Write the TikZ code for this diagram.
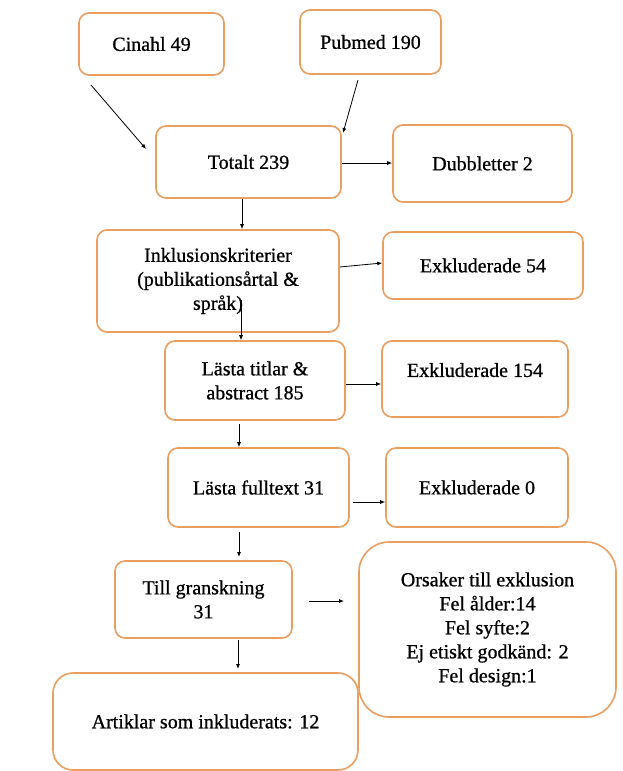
\documentclass[tikz,border=0pt]{standalone}
\usepackage{fontspec}
\setmainfont{Liberation Serif}[FakeBold=0.8]
\usetikzlibrary{arrows.meta}
\definecolor{boxorange}{RGB}{234,158,96}

\begin{document}
\begin{tikzpicture}[x=1pt,y=-1pt,join=round,
    box/.style={draw=boxorange,line width=1.6pt,rounded corners=10pt,align=center,
      inner sep=0pt,font=\fontsize{20}{24}\selectfont},
    arr/.style={-{Latex[length=5pt,width=4pt]},line width=0.8pt}] % Flow chart
       \useasboundingbox[fill=white] (0,0) rectangle (623,771);
       % sources
       \node[box,minimum width=145pt,minimum height=62pt] (cinahl) at (151.5,44) {Cinahl 49};
       \node[box,minimum width=141pt,minimum height=64pt] (pubmed) at (370.5,42) {Pubmed 190};
       \node[box,minimum width=185pt,minimum height=72pt] (totalt) at (248.5,162) {Totalt 239};
       \node[box,minimum width=179pt,minimum height=77pt] (dubbletter) at (482.5,163.5) {Dubbletter 2};
       % screening
       \node[box,minimum width=242pt,minimum height=102pt] (inklusion) at (218,281)
            {Inklusionskriterier\\(publikationsårtal \&\\språk)};
       \node[box,minimum width=200pt,minimum height=67pt] (exkl54) at (483,265.5) {Exkluderade 54};
       \node[box,minimum width=180pt,minimum height=79pt] (titlar) at (255,380.5) {Lästa titlar \&\\abstract 185};
       \node[box,minimum width=186pt,minimum height=76pt] (exkl154) at (475,379) {Exkluderade 154\\[-6pt]\mbox{}};
       \node[box,minimum width=181pt,minimum height=79pt] (fulltext) at (258.5,487.5) {Lästa fulltext 31};
       \node[box,minimum width=182pt,minimum height=79pt] (exkl0) at (477,487.5) {Exkluderade 0};
       % result
       \node[box,minimum width=177pt,minimum height=77pt] (granskning) at (203.5,599.5) {Till granskning\\31};
       \node[box,rounded corners=30pt,minimum width=257pt,minimum height=175pt] (orsaker) at (487.5,629.5)
            {Orsaker till exklusion\\Fel ålder:14\\Fel syfte:2\\Ej etiskt godkänd: 2\\Fel design:1};
       \node[box,rounded corners=20pt,minimum width=305pt,minimum height=97pt] (artiklar) at (205.5,721.5)
            {Artiklar som inkluderats: 12};
       % arrows
       \coordinate (c1) at (91,85);
       \coordinate (c2) at (146,149);
       \coordinate (p1) at (358,80);
       \coordinate (p2) at (343,133);
       \draw[arr] (c1) -- (c2);
       \draw[arr] (p1) -- (p2);
       \draw[arr] (totalt.east |- 0,163) -- (dubbletter.west |- 0,163);
       \draw[arr] (242,0 |- totalt.south) -- (242,0 |- inklusion.north);
       \draw[arr] (inklusion.east |- 0,267) -- (exkl54.west |- 0,263);
       \draw[arr] (241,300) -- (241,0 |- titlar.north);
       \draw[arr] (titlar.east |- 0,384) -- (exkl154.west |- 0,384);
       \draw[arr] (239,0 |- titlar.south) ++(0,3) -- (239,0 |- fulltext.north);
       \draw[arr] (fulltext.east |- 0,502) ++(3,0) -- (exkl0.west |- 0,502);
       \draw[arr] (239,0 |- fulltext.south) ++(0,4) -- (239,557);
       \draw[arr] (309,601) -- (344,601);
       \draw[arr] (238,0 |- granskning.south) ++(0,1) -- (238,669);
\end{tikzpicture}
\end{document}
